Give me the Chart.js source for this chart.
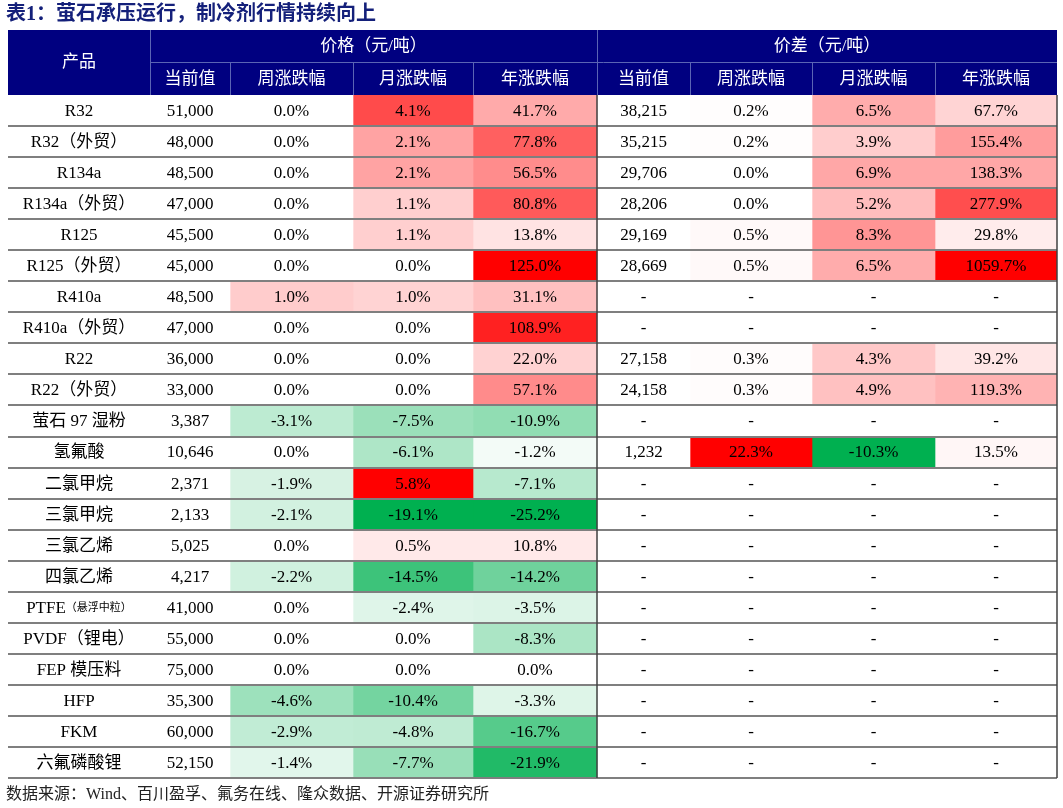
<!DOCTYPE html>
<html><head><meta charset="utf-8">
<script src="https://cdn.jsdelivr.net/npm/chart.js@4"></script>
<style>html,body{margin:0;padding:0;background:#fff}#wrap{width:1063px;height:808px;position:relative}</style>
</head><body><div id="wrap"><canvas id="c"></canvas></div>
<script>
const products = ['R32','R32（外贸）','R134a','R134a（外贸）','R125','R125（外贸）','R410a','R410a（外贸）','R22','R22（外贸）','萤石 97 湿粉','氢氟酸','二氯甲烷','三氯甲烷','三氯乙烯','四氯乙烯','PTFE（悬浮中粒）','PVDF（锂电）','FEP 模压料','HFP','FKM','六氟磷酸锂'];
const priceNow = [51000,48000,48500,47000,45500,45000,48500,47000,36000,33000,3387,10646,2371,2133,5025,4217,41000,55000,75000,35300,60000,52150];
const priceWeek = [0,0,0,0,0,0,1.0,0,0,0,-3.1,0,-1.9,-2.1,0,-2.2,0,0,0,-4.6,-2.9,-1.4];
const priceMonth = [4.1,2.1,2.1,1.1,1.1,0,1.0,0,0,0,-7.5,-6.1,5.8,-19.1,0.5,-14.5,-2.4,0,0,-10.4,-4.8,-7.7];
const priceYear = [41.7,77.8,56.5,80.8,13.8,125.0,31.1,108.9,22.0,57.1,-10.9,-1.2,-7.1,-25.2,10.8,-14.2,-3.5,-8.3,0,-3.3,-16.7,-21.9];
const spreadNow = [38215,35215,29706,28206,29169,28669,null,null,27158,24158,null,1232,null,null,null,null,null,null,null,null,null,null];
const spreadWeek = [0.2,0.2,0,0,0.5,0.5,null,null,0.3,0.3,null,22.3,null,null,null,null,null,null,null,null,null,null];
const spreadMonth = [6.5,3.9,6.9,5.2,8.3,6.5,null,null,4.3,4.9,null,-10.3,null,null,null,null,null,null,null,null,null,null];
const spreadYear = [67.7,155.4,138.3,277.9,29.8,1059.7,null,null,39.2,119.3,null,13.5,null,null,null,null,null,null,null,null,null,null];
const groupLabels = ['价格（元/吨）','价差（元/吨）'];
const colLabels = ['当前值','周涨跌幅','月涨跌幅','年涨跌幅'];

// layout (x units = pixels from left of table)
const edges = [0,142,222,345,465,589,682,804,927,1049];
// colour scale extents per column [pos, neg]
const scaleExt = [null,null,[5,12],[5.8,19.1],[125,25.2],null,[22.3,10.3],[20,10.3],[400,25]];
const columns = [products,priceNow,priceWeek,priceMonth,priceYear,spreadNow,spreadWeek,spreadMonth,spreadYear];

function mix(c,t){return 'rgb('+c.map(v=>Math.round(255+(v-255)*t)).join(',')+')';}
function cellColor(ci,v){
  const s=scaleExt[ci]; if(!s||v==null||v===0) return '#ffffff';
  if(v>0) return mix([255,0,0],Math.min(1,v/s[0]));
  return mix([0,176,80],Math.min(1,-v/s[1]));
}
function fmt(ci,v){
  if(ci===0) return v;
  if(v==null) return '-';
  if(ci===1||ci===5) return v.toLocaleString('en-US');
  return v.toFixed(1)+'%';
}
const FONT = "'Liberation Serif','Noto Sans CJK SC',serif";
const datasets = columns.map((col,ci)=>({
  data: products.map(()=>[edges[ci],edges[ci+1]]),
  backgroundColor: products.map((_,ri)=>cellColor(ci,col[ri])),
  borderWidth:0, barPercentage:1, categoryPercentage:1, grouped:false
}));

const tablePlugin = {
  id:'table',
  afterDatasetsDraw(chart){
    const ctx=chart.ctx, xs=chart.scales.x, ca=chart.chartArea;
    const X=v=>xs.getPixelForValue(v);
    const rowH=(ca.bottom-ca.top)/products.length;
    ctx.save();
    // body text
    ctx.fillStyle='#000'; ctx.textAlign='center'; ctx.textBaseline='middle';
    chart.data.datasets.forEach((ds,ci)=>{
      chart.getDatasetMeta(ci).data.forEach((el,ri)=>{
        const cx=(el.x+el.base)/2, cy=el.y;
        const t=String(fmt(ci,columns[ci][ri]));
        ctx.font='17px '+FONT;
        const w=ctx.measureText(t).width;
        if(w>edges[ci+1]-edges[ci]-8 && t.indexOf('（')>0){
          const a=t.slice(0,t.indexOf('（')), b=t.slice(t.indexOf('（'));
          const wa=ctx.measureText(a).width; ctx.font='11px '+FONT; const wb=ctx.measureText(b).width;
          const x0=cx-(wa+wb)/2; ctx.textAlign='left';
          ctx.font='17px '+FONT; ctx.fillText(a,x0,cy+1);
          ctx.font='11px '+FONT; ctx.fillText(b,x0+wa,cy+1);
          ctx.textAlign='center';
        } else ctx.fillText(t,cx,cy+1);
      });
    });
    // row lines
    ctx.strokeStyle='#7f7f7f'; ctx.lineWidth=2;
    for(let i=1;i<=products.length;i++){
      const y=Math.round(ca.top+i*rowH);
      ctx.beginPath(); ctx.moveTo(ca.left,y); ctx.lineTo(ca.right,y); ctx.stroke();
    }
    ctx.strokeStyle='#404040'; ctx.lineWidth=1.5;
    [edges[5],edges[9]].forEach(e=>{ctx.beginPath();ctx.moveTo(X(e),ca.top);ctx.lineTo(X(e),ca.bottom);ctx.stroke();});
    // header
    const h0=30,h1=62,h2=ca.top;
    ctx.fillStyle='#000080'; ctx.fillRect(ca.left,h0,ca.right-ca.left,h2-h0);
    ctx.strokeStyle='#5a64b4'; ctx.lineWidth=1;
    ctx.beginPath();
    ctx.moveTo(X(edges[1]),h1+0.5); ctx.lineTo(ca.right,h1+0.5);
    for(let i=1;i<9;i++){ const x=Math.round(X(edges[i]))+0.5; ctx.moveTo(x,(i===1||i===5)?h0:h1); ctx.lineTo(x,h2);}
    ctx.stroke();
    ctx.fillStyle='#fff'; ctx.font='17px '+FONT; ctx.textAlign='center';
    ctx.fillText('产品',(X(edges[0])+X(edges[1]))/2,(h0+h2)/2);
    ctx.fillText(groupLabels[0],(X(edges[1])+X(edges[5]))/2,(h0+h1)/2+1);
    ctx.fillText(groupLabels[1],(X(edges[5])+X(edges[9]))/2,(h0+h1)/2+1);
    for(let i=1;i<9;i++) ctx.fillText(colLabels[(i-1)%4],(X(edges[i])+X(edges[i+1]))/2,(h1+h2)/2+1);
    // title & source
    ctx.textAlign='left'; ctx.fillStyle='#14207a'; ctx.font="bold 20px 'Liberation Serif','Noto Sans CJK SC',serif";
    ctx.fillText('表1：萤石承压运行，制冷剂行情持续向上',6,15);
    ctx.fillStyle='#222'; ctx.font='16px '+FONT;
    ctx.fillText('数据来源：Wind、百川盈孚、氟务在线、隆众数据、开源证券研究所',6,795);
    ctx.restore();
  }
};

new Chart(document.getElementById('c'),{
  type:'bar',
  data:{labels:products,datasets},
  options:{
    indexAxis:'y', responsive:true, maintainAspectRatio:false, animation:false,
    layout:{padding:{left:8,right:6,top:95,bottom:30}},
    plugins:{legend:{display:false},tooltip:{enabled:false}},
    scales:{
      x:{type:'linear',min:0,max:1049,display:false},
      y:{type:'category',display:false,offset:true}
    }
  },
  plugins:[tablePlugin]
});
</script></body></html>
